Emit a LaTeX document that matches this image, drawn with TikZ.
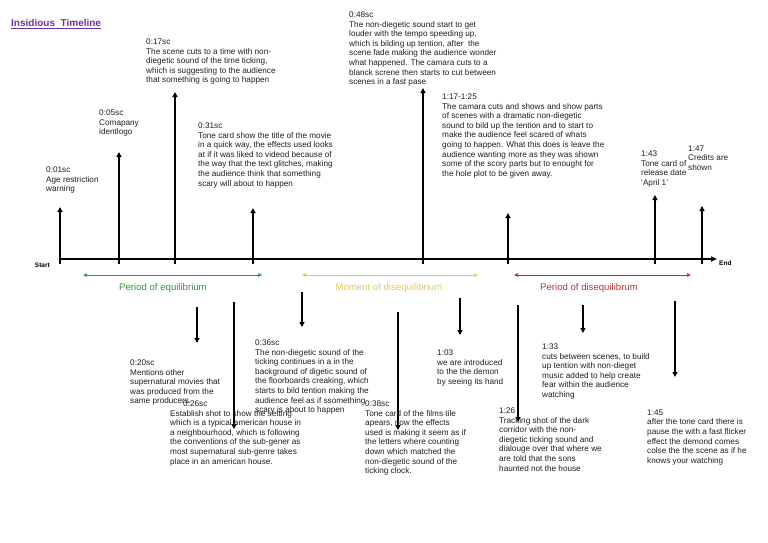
\documentclass[tikz,border=0pt]{standalone}
\usepackage{fontspec}
\setmainfont{Liberation Sans}
\usepackage{xcolor}
\definecolor{TitlePurple}{RGB}{112,48,160}
\definecolor{EquiGreen}{RGB}{60,145,60}
\definecolor{MomentYellow}{RGB}{236,200,70}
\definecolor{DisRed}{RGB}{185,50,50}
\definecolor{NoteInk}{RGB}{30,30,30}
\usetikzlibrary{arrows.meta, positioning}

\tikzset{
  note/.style={anchor=north west, inner sep=0pt, align=left,
    font=\fontsize{8.2}{9.6}\selectfont, text=NoteInk},
  evt/.style={line width=1.5pt, -{Triangle[length=5pt,width=5pt]}},
  phase/.style={line width=0.7pt,
    {Triangle[length=4pt,width=3.5pt]}-{Triangle[length=4pt,width=3.5pt]}},
  phaselabel/.style={inner sep=0pt, font=\fontsize{9.6}{11}\selectfont},
  endlabel/.style={inner sep=0pt, font=\bfseries\fontsize{6.5}{7}\selectfont}
}

\begin{document}
\begin{tikzpicture}[x=1pt, y=-1pt]
\useasboundingbox (0,0) rectangle (768,543);

% title
\node[anchor=base west, inner sep=0pt, text=TitlePurple,
  font=\bfseries\fontsize{10}{12}\selectfont] (title) at (11,27)
  {\underline{Insidious\ \ Timeline}};

% the time line
\coordinate (start) at (60,259);
\coordinate (end) at (717,259);
\draw[line width=1.5pt, -{Triangle[length=6pt,width=5pt]}] (start) -- (end);
\node[endlabel, left=10pt of start, yshift=-6pt] (startlbl) {Start};
\node[endlabel, right=2pt of end, yshift=-4pt] (endlbl) {End};

% events above the line
\foreach \n/\x/\tip in {u01/60/207, u05/119/152, u17/175/92, u31/253/208,
    u48/423/88, u117/508/213, u143/655/195, u147/702/206} {
  \coordinate (\n-base) at (\x,264);
  \coordinate (\n-tip) at (\x,\tip);
  \draw[evt] (\n-base) -- (\n-tip);
}

% events below the line
\foreach \n/\x/\from/\tip in {d20/197/307/343, d26/234/302/429, d36/302/292/327,
    d38/398/312/430, d103/460/298/335, d126/518/305/422, d133/583/305/333,
    d145/675/301/377} {
  \coordinate (\n-base) at (\x,\from);
  \coordinate (\n-tip) at (\x,\tip);
  \draw[evt] (\n-base) -- (\n-tip);
}

% phases
\coordinate (equiL) at (83,275);   \coordinate (equiR) at (262,275);
\coordinate (momL) at (302,275);   \coordinate (momR) at (478,275);
\coordinate (disL) at (514,275);   \coordinate (disR) at (691,275);
\draw[phase, EquiGreen] (equiL) -- (equiR);
\draw[phase, MomentYellow] (momL) -- (momR);
\draw[phase, DisRed] (disL) -- (disR);
\node[phaselabel, text=EquiGreen] (equilbl) at (163,288) {Period of equilibrium};
\node[phaselabel, text=MomentYellow] (momlbl) at (389,288) {Moment of disequilibrium};
\node[phaselabel, text=DisRed] (dislbl) at (589,288) {Period of disequilibrum};

% notes above
\node[note] (n01) at (46,166.5) {0:01sc\\Age restriction\\warning};
\node[note] (n05) at (99,109.5) {0:05sc\\Comapany\\identlogo};
\node[note] (n17) at (146,38.5) {0:17sc\\The scene cuts to a time with non-\\diegetic sound of the time ticking,\\which is suggesting to the audience\\that something is going to happen};
\node[note] (n31) at (198,122.5) {0:31sc\\Tone card show the title of the movie\\in a quick way, the effects used looks\\at if it was liked to videod because of\\the way that the text glitches, making\\the audience think that something\\scary will about to happen};
\node[note] (n48) at (349,11.5) {0:48sc\\The non-diegetic sound start to get\\louder with the tempo speeding up,\\which is bilding up tention, after \ the\\scene fade making the audience wonder\\what happened. The camara cuts to a\\blanck screne then starts to cut between\\scenes in a fast pase};
\node[note] (n117) at (442,93.5) {1:17-1:25\\The camara cuts and shows and show parts\\of scenes with a dramatic non-diegetic\\sound to bild up the tention and to start to\\make the audience feel scared of whats\\going to happen. What this does is leave the\\audience wanting more as they was shown\\some of the scory parts but to enought for\\the hole plot to be given away.};
\node[note] (n143) at (641,150.5) {1:43\\Tone card of\\release date\\`April 1'};
\node[note] (n147) at (688,145.5) {1:47\\Credits are\\shown};

% notes below
\node[note] (n20) at (130,359.5) {0:20sc\\Mentions other\\supernatural movies that\\was produced from the\\same producers.};
\node[note] (n26) at (170,400.5) {\hspace*{13pt}0:26sc\\Establish shot to show the setting\\which is a typical american house in\\a neighbourhood, which is following\\the conventions of the sub-gener as\\most supernatural sub-genre takes\\place in an american house.};
\node[note] (n36) at (255,339.5) {0:36sc\\The non-diegetic sound of the\\ticking continues in a in the\\background of digetic sound of\\the floorboards creaking, which\\starts to bild tention making the\\audience feel as if ssomething\\scary is about to happen};
\node[note] (n38) at (365,400.5) {0:38sc\\Tone card of the films tile\\apears, now the effects\\used is making it seem as if\\the letters where counting\\down which matched the\\non-diegetic sound of the\\ticking clock.};
\node[note] (n103) at (437,349.5) {1:03\\we are introduced\\to the the demon\\by seeing its hand};
\node[note] (n126) at (499,407.5) {1:26\\Tracking shot of the dark\\corridor with the non-\\diegetic ticking sound and\\dialouge over that where we\\are told that the sons\\haunted not the house};
\node[note] (n133) at (542,343.5) {1:33\\cuts between scenes, to build\\up tention with non-dieget\\music added to help create\\fear within the audience\\watching};
\node[note] (n145) at (647,409.5) {1:45\\after the tone card there is\\pause the with a fast flicker\\effect the demond comes\\colse the the scene as if he\\knows your watching};
\end{tikzpicture}
\end{document}
